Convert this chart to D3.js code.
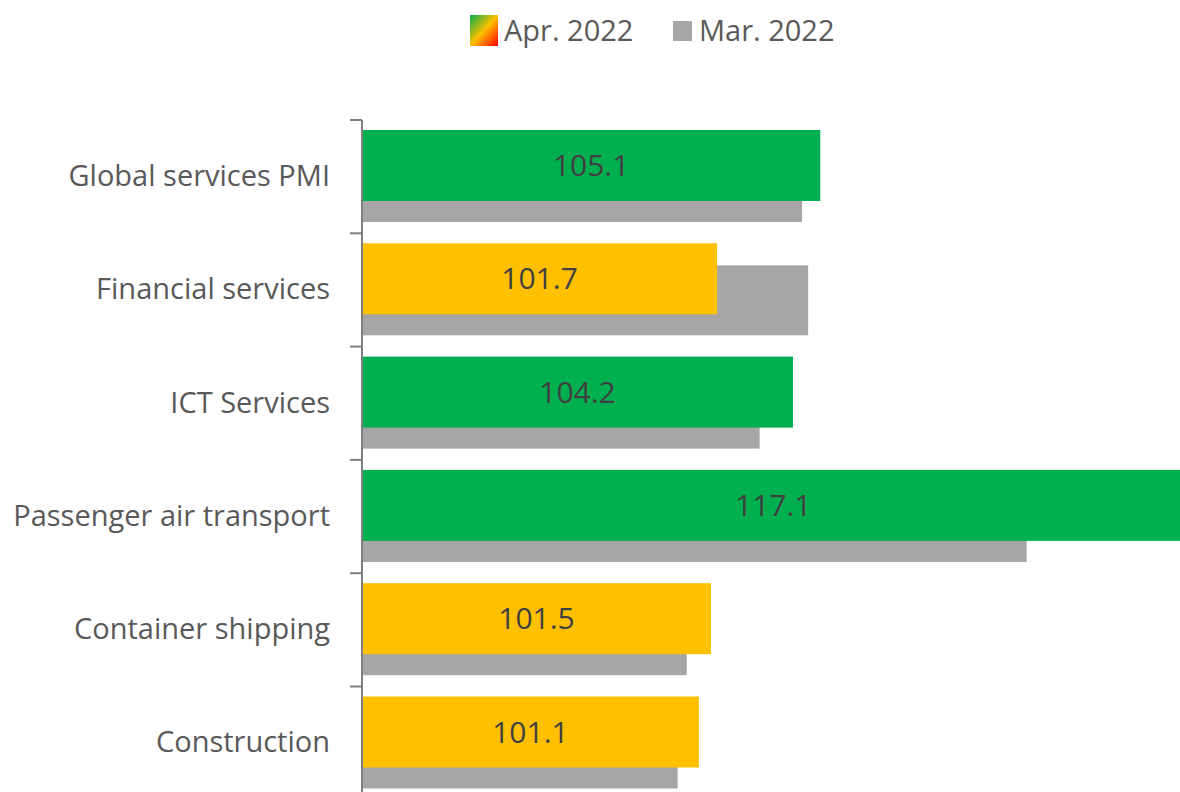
<!DOCTYPE html>
<html>
<head>
<meta charset="utf-8">
<script src="https://cdn.jsdelivr.net/npm/d3@7"></script>
<style>
  html, body { margin: 0; padding: 0; background: #fff; }
  svg { display: block; font-family: "Open Sans", Lato, sans-serif; }
</style>
</head>
<body>
<div id="chart"></div>
<script>
// chart data
const categories = ["Global services PMI", "Financial services", "ICT Services",
  "Passenger air transport", "Container shipping", "Construction"];
const apr2022 = [105.1, 101.7, 104.2, 117.1, 101.5, 101.1];
const mar2022 = [104.5, 104.7, 103.1, 111.9, 100.7, 100.4];
const seriesNames = ["Apr. 2022", "Mar. 2022"];

const W = 1180, H = 792;
const M = { top: 120, left: 362 };
const BAND = 113.3;
const FONT = "'Open Sans', Lato, sans-serif";

const GREEN = "#00B050", YELLOW = "#FFC000", GREY = "#A6A6A6";
const aprColor = d3.scaleThreshold().domain([103]).range([YELLOW, GREEN]);

const svg = d3.select("#chart").append("svg").attr("width", W).attr("height", H);

// x scale: bars start at 90, ~30.4 px per index point
const x = d3.scaleLinear().domain([90, 120]).range([M.left, M.left + 30 * 30.35]);
const y = d3.scaleBand().domain(categories)
  .range([M.top, M.top + BAND * categories.length]).padding(0);

const rows = categories.map((c, i) => ({ cat: c, apr: apr2022[i], mar: mar2022[i] }));

// legend gradient
const defs = svg.append("defs");
const grad = defs.append("linearGradient").attr("id", "aprGrad")
  .attr("x1", "0%").attr("y1", "0%").attr("x2", "100%").attr("y2", "100%");
grad.append("stop").attr("offset", "0%").attr("stop-color", GREEN);
grad.append("stop").attr("offset", "50%").attr("stop-color", YELLOW);
grad.append("stop").attr("offset", "100%").attr("stop-color", "#FF0000");

// Mar bars behind
svg.append("g").selectAll("rect").data(rows).join("rect")
  .attr("x", x(90)).attr("y", (d) => y(d.cat) + 32)
  .attr("width", (d) => x(d.mar) - x(90)).attr("height", 70)
  .attr("fill", GREY);

// Apr bars in front
svg.append("g").selectAll("rect").data(rows).join("rect")
  .attr("x", x(90)).attr("y", (d) => y(d.cat) + 10)
  .attr("width", (d) => x(d.apr) - x(90)).attr("height", 71)
  .attr("fill", (d) => aprColor(d.apr));

// value labels
svg.append("g").selectAll("text").data(rows).join("text")
  .attr("x", (d) => (x(90) + x(d.apr)) / 2)
  .attr("y", (d) => y(d.cat) + 45.5)
  .attr("dy", "0.35em").attr("text-anchor", "middle")
  .attr("font-size", 30).attr("fill", "#404040")
  .text((d) => d.apr.toFixed(1));

// y axis
const yAxis = svg.append("g").attr("transform", `translate(${M.left},0)`)
  .call(d3.axisLeft(y).tickSize(0).tickPadding(32));
yAxis.select(".domain").remove();
yAxis.selectAll("text").attr("font-size", 29).attr("fill", "#595959")
  .attr("font-family", FONT);
yAxis.append("line").attr("x1", 0).attr("x2", 0)
  .attr("y1", M.top).attr("y2", H).attr("stroke", "#7F7F7F").attr("stroke-width", 2);
yAxis.selectAll(".sep").data(d3.range(categories.length + 1)).join("line")
  .attr("class", "sep").attr("x1", -12).attr("x2", 0)
  .attr("y1", (i) => M.top + i * BAND).attr("y2", (i) => M.top + i * BAND)
  .attr("stroke", "#7F7F7F").attr("stroke-width", 2);

// legend
const lg = svg.append("g").attr("font-size", 29).attr("fill", "#595959");
lg.append("rect").attr("x", 470).attr("y", 15).attr("width", 28).attr("height", 31)
  .attr("fill", "url(#aprGrad)");
lg.append("text").attr("x", 504).attr("y", 41).text(seriesNames[0]);
lg.append("rect").attr("x", 673).attr("y", 21).attr("width", 19).attr("height", 20)
  .attr("fill", GREY);
lg.append("text").attr("x", 699).attr("y", 41).text(seriesNames[1]);
</script>
</body>
</html>
